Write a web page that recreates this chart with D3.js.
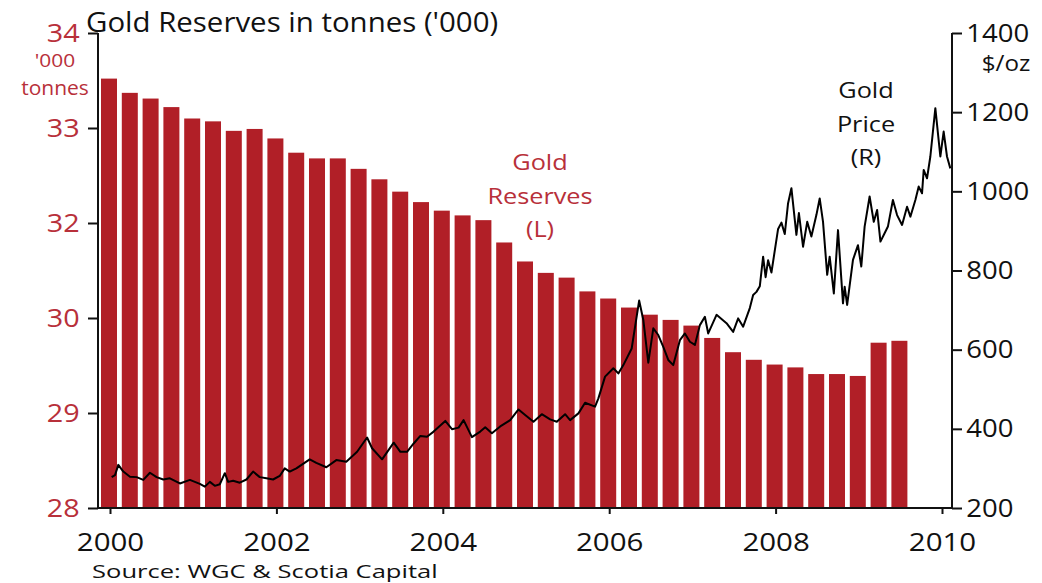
<!DOCTYPE html>
<html><head><meta charset="utf-8">
<script src="https://cdn.jsdelivr.net/npm/d3@7"></script>
<style>body{margin:0;background:#fff} svg{display:block} text{font-family:"Open Sans",sans-serif}</style>
</head><body><svg id="c" width="1042" height="583"></svg>
<script>
// ---- data ----
const quarters = ["2000 Q1","2000 Q2","2000 Q3","2000 Q4","2001 Q1","2001 Q2","2001 Q3","2001 Q4",
  "2002 Q1","2002 Q2","2002 Q3","2002 Q4","2003 Q1","2003 Q2","2003 Q3","2003 Q4",
  "2004 Q1","2004 Q2","2004 Q3","2004 Q4","2005 Q1","2005 Q2","2005 Q3","2005 Q4",
  "2006 Q1","2006 Q2","2006 Q3","2006 Q4","2007 Q1","2007 Q2","2007 Q3","2007 Q4",
  "2008 Q1","2008 Q2","2008 Q3","2008 Q4","2009 Q1","2009 Q2","2009 Q3"];
const reserves = [33.52,33.37,33.31,33.22,33.10,33.07,32.97,32.99,32.89,32.74,32.68,32.68,32.57,32.46,32.33,32.22,
  32.13,32.08,32.03,31.59,31.19,30.95,30.85,30.56,30.41,30.22,30.07,29.98,29.92,29.79,29.64,29.56,29.51,29.48,
  29.41,29.41,29.39,29.74,29.76];
const priceYears = [2000.02,2000.06,2000.10,2000.16,2000.24,2000.32,2000.40,2000.48,2000.56,2000.64,2000.72,2000.84,2000.96,
  2001.08,2001.14,2001.20,2001.26,2001.32,2001.38,2001.42,2001.48,2001.56,2001.64,2001.72,2001.80,2001.88,2001.96,
  2002.04,2002.10,2002.16,2002.24,2002.40,2002.48,2002.60,2002.72,2002.84,2002.97,
  2003.09,2003.15,2003.27,2003.41,2003.49,2003.57,2003.65,2003.73,2003.81,2003.89,
  2004.03,2004.11,2004.19,2004.25,2004.35,2004.45,2004.51,2004.59,2004.69,2004.81,2004.91,2004.99,
  2005.09,2005.19,2005.29,2005.37,2005.47,2005.53,2005.63,2005.71,2005.83,2005.87,2005.95,
  2006.05,2006.11,2006.17,2006.27,2006.36,2006.41,2006.47,2006.53,2006.59,2006.65,2006.71,2006.77,2006.85,2006.91,2006.97,
  2007.03,2007.09,2007.15,2007.19,2007.29,2007.41,2007.49,2007.55,2007.61,2007.69,2007.73,2007.77,2007.81,2007.85,2007.88,2007.91,2007.95,
  2008.03,2008.07,2008.11,2008.15,2008.19,2008.25,2008.28,2008.33,2008.38,2008.43,2008.49,2008.53,2008.57,2008.62,2008.65,2008.70,2008.75,2008.81,2008.83,2008.86,2008.93,2008.99,
  2009.03,2009.07,2009.13,2009.18,2009.22,2009.26,2009.31,2009.35,2009.41,2009.46,2009.52,2009.58,2009.62,2009.68,2009.72,2009.76,2009.78,2009.82,2009.86,2009.92,2009.98,
  2010.02,2010.06,2010.10];
const priceValues = [278,283,309,292,279,278,271,289,278,272,275,262,271,
  261,254,266,256,260,288,266,269,264,272,292,278,275,272,
  281,300,292,300,323,314,303,321,317,342,
  378,351,323,365,342,342,363,382,380,393,
  420,399,403,422,379,393,404,389,406,422,449,435,
  418,437,424,418,437,422,439,466,456,477,532,
  553,540,561,603,724,675,567,654,637,607,574,561,624,641,620,
  612,662,683,641,688,667,645,679,658,705,738,746,760,835,783,826,795,
  905,921,892,970,1008,890,945,860,923,886,940,982,923,789,835,742,902,717,759,713,827,864,
  810,911,987,923,953,873,894,911,978,940,915,961,936,978,1012,995,1054,1033,1088,1210,1088,
  1151,1088,1058];
const leftTicks = [28,29,30,32,33,34];
const rightTicks = [200,400,600,800,1000,1200,1400];
const yearTicks = [2000,2002,2004,2006,2008,2010];

// ---- style ----
const RED = "#b11f27", TXTRED = "#b8303a", INK = "#111", SX = 1.15;
const svg = d3.select("#c");

const x = d3.scaleLinear().domain([2000,2010]).range([110,942]);
const yL = d3.scaleLinear().domain(leftTicks).range(d3.quantize(d3.interpolateNumber(508,33), leftTicks.length));
const yR = d3.scaleLinear().domain([200,1400]).range([508,33]);

const qYear = q => { const [y, qq] = q.split(" Q"); return +y + (+qq - 1) * 0.25; };

// bars
svg.append("g").selectAll("rect").data(quarters).join("rect")
  .attr("x", (q) => x(qYear(q)) - 9)
  .attr("width", 16)
  .attr("y", (q,i) => yL(reserves[i]))
  .attr("height", (q,i) => yL(28) - yL(reserves[i]))
  .attr("fill", RED);

// price line
const pts = priceYears.map((t,i) => [t, priceValues[i]]);
svg.append("path").datum(pts)
  .attr("fill","none").attr("stroke","#000").attr("stroke-width",2).attr("stroke-linejoin","round")
  .attr("d", d3.line().x(d => x(d[0])).y(d => yR(d[1])));

// axes
function styleAxis(g, size, fill, sx) {
  g.select(".domain").remove();
  g.selectAll(".tick line").attr("stroke", INK).attr("stroke-width", 2);
  g.selectAll(".tick text").attr("font-size", size).attr("fill", fill)
    .attr("font-family", '"Open Sans",sans-serif')
    .attr("transform", `scale(${sx},1)`);
}
const gL = svg.append("g").attr("transform","translate(98,0)")
  .call(d3.axisLeft(yL).tickValues(leftTicks).tickSize(10).tickPadding(6).tickFormat(d3.format("d")));
styleAxis(gL, 25, TXTRED, SX);
const gR = svg.append("g").attr("transform","translate(952,0)")
  .call(d3.axisRight(yR).tickValues(rightTicks).tickSize(10).tickPadding(3).tickFormat(d3.format("d")));
styleAxis(gR, 25, INK, 1.1);
const gB = svg.append("g").attr("transform","translate(0,508)")
  .call(d3.axisBottom(x).tickValues(yearTicks).tickSize(6).tickPadding(19).tickFormat(d3.format("d")));
styleAxis(gB, 25, INK, 1.18);

// axis lines
const [yBot, yTop] = [yL.range()[0], yL.range()[yL.range().length-1]];
svg.append("line").attr("x1",98).attr("x2",98).attr("y1",yTop).attr("y2",yBot).attr("stroke",INK).attr("stroke-width",2);
svg.append("line").attr("x1",952).attr("x2",952).attr("y1",yTop).attr("y2",yBot).attr("stroke",INK).attr("stroke-width",2);
svg.append("line").attr("x1",97).attr("x2",953).attr("y1",yBot).attr("y2",yBot).attr("stroke",INK).attr("stroke-width",2);

// text helper
function txt(xp, yp, s, size, fill, anchor, sx) {
  svg.append("text").attr("transform", `translate(${xp},${yp}) scale(${sx||SX},1)`)
    .attr("text-anchor", anchor || "start").attr("font-size", size).attr("fill", fill || INK).text(s);
}
txt(86, 32, "Gold Reserves in tonnes ('000)", 27, INK, "start", 1.09);
txt(55, 67, "'000", 19, TXTRED, "middle", 1.1);
txt(55, 95, "tonnes", 20, TXTRED, "middle", 1.05);
txt(540, 170, "Gold", 22, TXTRED, "middle", 1.15);
txt(540, 204, "Reserves", 22, TXTRED, "middle", 1.15);
txt(540, 237, "(L)", 22, TXTRED, "middle", 1.15);
txt(866, 98, "Gold", 22, INK, "middle", 1.15);
txt(866, 132, "Price", 22, INK, "middle", 1.15);
txt(866, 165, "(R)", 22, INK, "middle", 1.15);
txt(1006, 71, "$/oz", 22, INK, "middle", 1.1);
txt(92, 578, "Source: WGC & Scotia Capital", 18, INK, "start", 1.42);
</script></body></html>
